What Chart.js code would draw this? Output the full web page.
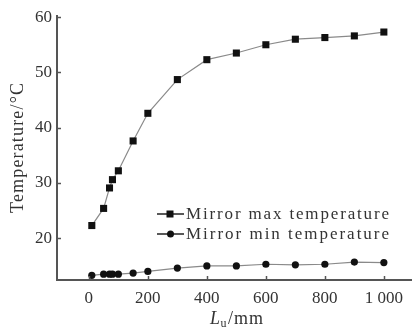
<!DOCTYPE html>
<html>
<head>
<meta charset="utf-8">
<script src="https://cdn.jsdelivr.net/npm/chart.js@4.4.1/dist/chart.umd.min.js"></script>
<style>
html,body{margin:0;padding:0;background:#fff;}
#wrap{width:416px;height:327px;position:relative;}
</style>
</head>
<body>
<div id="wrap"><canvas id="c" width="416" height="327"></canvas></div>
<script>
// ---- data ----
const lengths = [10, 50, 70, 80, 100, 150, 200, 300, 400, 500, 600, 700, 800, 900, 1000];
const maxTemp = [22.3, 25.4, 29.1, 30.6, 32.2, 37.6, 42.6, 48.7, 52.3, 53.5, 55.0, 56.0, 56.3, 56.6, 57.3];
const minTemp = [13.3, 13.5, 13.5, 13.5, 13.5, 13.7, 14.0, 14.6, 15.0, 15.0, 15.3, 15.2, 15.3, 15.7, 15.6];
const xTicks = [0, 200, 400, 600, 800, 1000];
const yTicks = [20, 30, 40, 50, 60];
const seriesNames = ['Mirror max temperature', 'Mirror min temperature'];
const yTitle = 'Temperature/\u00B0C';

const SERIF = "'Liberation Serif', 'DejaVu Serif', serif";
const AXIS_COLOR = '#555';
const TEXT_COLOR = '#333';

function drawSpaced(ctx, text, x, y, targetW) {
  const w = ctx.measureText(text).width;
  if ('letterSpacing' in ctx && targetW) {
    const ls = (targetW - w) / Math.max(1, text.length - 1);
    ctx.letterSpacing = ls + 'px';
    ctx.fillText(text, x, y);
    ctx.letterSpacing = '0px';
  } else {
    ctx.fillText(text, x, y);
  }
}

const decor = {
  id: 'decor',
  afterDraw(chart) {
    const ctx = chart.ctx;
    const xs = chart.scales.x, ys = chart.scales.y;
    const area = chart.chartArea;
    ctx.save();
    // inward tick marks
    ctx.strokeStyle = AXIS_COLOR;
    ctx.lineWidth = 1.5;
    yTicks.forEach(v => {
      const py = Math.round(ys.getPixelForValue(v)) + 0.5;
      ctx.beginPath(); ctx.moveTo(area.left, py); ctx.lineTo(area.left + 4, py); ctx.stroke();
    });
    xTicks.forEach(v => {
      const px = Math.round(xs.getPixelForValue(v)) + 0.5;
      ctx.beginPath(); ctx.moveTo(px, area.bottom); ctx.lineTo(px, area.bottom - 4); ctx.stroke();
    });

    // legend
    const rows = [
      {name: seriesNames[0], y: 214, style: 'rect'},
      {name: seriesNames[1], y: 234, style: 'circle'}
    ];
    ctx.font = '17px ' + SERIF;
    ctx.textBaseline = 'middle';
    ctx.textAlign = 'left';
    rows.forEach(r => {
      ctx.strokeStyle = '#222';
      ctx.lineWidth = 1.5;
      ctx.beginPath(); ctx.moveTo(157, r.y); ctx.lineTo(184, r.y); ctx.stroke();
      ctx.fillStyle = '#111';
      if (r.style === 'rect') {
        ctx.fillRect(170 - 3.5, r.y - 3.5, 7, 7);
      } else {
        ctx.beginPath(); ctx.arc(170.5, r.y, 3.5, 0, Math.PI * 2); ctx.fill();
      }
      ctx.fillStyle = TEXT_COLOR;
      drawSpaced(ctx, r.name, 186, r.y + 1, 203);
    });

    // y title
    ctx.save();
    ctx.translate(18, 148);
    ctx.rotate(-Math.PI / 2);
    ctx.textAlign = 'left';
    ctx.textBaseline = 'middle';
    ctx.fillStyle = TEXT_COLOR;
    ctx.font = '18px ' + SERIF;
    drawSpaced(ctx, yTitle, -65, 0, 130);
    ctx.restore();

    // x title: L_u/mm
    ctx.fillStyle = TEXT_COLOR;
    ctx.textBaseline = 'alphabetic';
    ctx.textAlign = 'left';
    let x0 = 210, base = 324;
    ctx.font = 'italic 18px ' + SERIF;
    ctx.fillText('L', x0, base);
    x0 += ctx.measureText('L').width + 0.5;
    ctx.font = '12px ' + SERIF;
    ctx.fillText('u', x0, base + 3);
    x0 += ctx.measureText('u').width + 1.5;
    ctx.font = '18px ' + SERIF;
    ctx.letterSpacing = '1px';
    ctx.fillText('/mm', x0, base);
    ctx.letterSpacing = '0px';
    ctx.restore();
  }
};

new Chart(document.getElementById('c'), {
  type: 'line',
  data: {
    datasets: [
      {
        label: seriesNames[0],
        data: lengths.map((l, i) => ({x: l, y: maxTemp[i]})),
        borderColor: '#8a8a8a', borderWidth: 1.2,
        pointStyle: 'rect', pointRadius: 5, pointBackgroundColor: '#111', pointBorderColor: '#111', pointBorderWidth: 0,
        tension: 0
      },
      {
        label: seriesNames[1],
        data: lengths.map((l, i) => ({x: l, y: minTemp[i]})),
        borderColor: '#8a8a8a', borderWidth: 1.2,
        pointStyle: 'circle', pointRadius: 3.6, pointBackgroundColor: '#111', pointBorderColor: '#111', pointBorderWidth: 0,
        tension: 0
      }
    ]
  },
  options: {
    responsive: false,
    animation: false,
    devicePixelRatio: 1,
    layout: {padding: {top: 16, right: 0, left: 0, bottom: 0}},
    plugins: {legend: {display: false}, tooltip: {enabled: false}},
    scales: {
      x: {
        type: 'linear', min: -108, max: 1092,
        afterBuildTicks(s) { s.ticks = xTicks.map(v => ({value: v})); },
        afterFit(s) { s.height = 47; },
        grid: {display: true, drawOnChartArea: false, drawTicks: false},
        border: {display: true, color: AXIS_COLOR, width: 2},
        ticks: {
          padding: 8, color: TEXT_COLOR, maxRotation: 0, autoSkip: false,
          font: {family: SERIF, size: 17},
          callback: v => v === 1000 ? '1 000' : String(v)
        }
      },
      y: {
        type: 'linear', min: 12.45, max: 60.2,
        afterBuildTicks(s) { s.ticks = yTicks.map(v => ({value: v})); },
        afterFit(s) { s.width = 57; },
        grid: {display: true, drawOnChartArea: false, drawTicks: false},
        border: {display: true, color: AXIS_COLOR, width: 2},
        ticks: {
          padding: 5, color: TEXT_COLOR, autoSkip: false,
          font: {family: SERIF, size: 17}
        }
      }
    }
  },
  plugins: [decor]
});
</script>
</body>
</html>
